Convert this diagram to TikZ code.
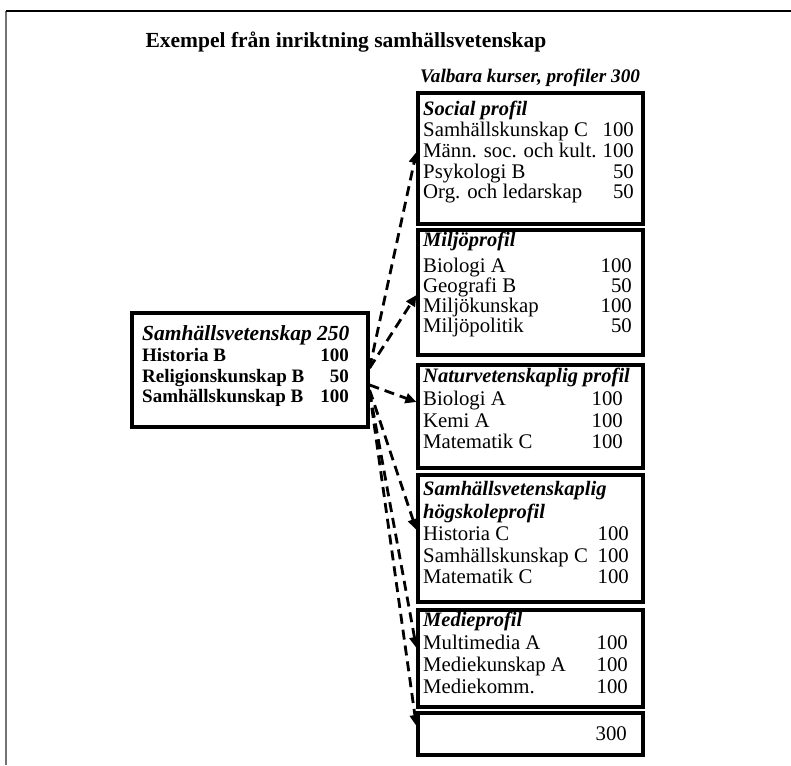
\documentclass[tikz,border=0pt]{standalone}
\usepackage{fontspec}
\setmainfont{Liberation Serif}
\usetikzlibrary{arrows.meta}

\tikzset{
  box/.style={draw, line width=3.2pt, inner sep=0pt},
  course/.style={anchor=base west, inner sep=0pt, font=\fontsize{20.8}{23}\selectfont},
  points/.style={anchor=base east, inner sep=0pt, font=\fontsize{20.8}{23}\selectfont},
  profile/.style={anchor=base west, inner sep=0pt, font=\fontsize{20.5}{23}\selectfont\bfseries\itshape},
  choice/.style={dash pattern=on 10pt off 6pt, line width=2.8pt, -{Triangle[length=11pt,width=10pt]}},
}

\begin{document}
\begin{tikzpicture}[x=1pt, y=-1pt]
    \useasboundingbox (0,0) rectangle (791,765);
    \draw[line width=1.8pt, black!55] (6,765) -- (6,11);
    \draw[line width=1.6pt] (6,11) -- (791,11);

    \node[anchor=base, inner sep=0pt, font=\fontsize{21.5}{24}\selectfont\bfseries] (title) at (346,48) {Exempel från inriktning samhällsvetenskap};
    \node[profile, font=\fontsize{19.2}{22}\selectfont\bfseries\itshape] (valbara) at (420,83) {Valbara kurser, profiler 300};

    % core courses
    \node[box, minimum width=236pt, minimum height=114pt] (core) at (250,370) {};
    \node[profile, font=\fontsize{21.5}{24}\selectfont\bfseries\itshape] (core-head) at (142,340) {Samhällsvetenskap 250};
    \foreach \y/\c/\p in {361/Historia B/100, 382/Religionskunskap B/50, 402/Samhällskunskap B/100} {
      \node[course, font=\fontsize{19}{22}\selectfont\bfseries] (core-c\y) at (142,\y) {\c};
      \node[points, font=\fontsize{19}{22}\selectfont\bfseries] (core-p\y) at (349,\y) {\p};
    }

    % social
    \node[box, minimum width=225pt, minimum height=131pt] (social) at (530.5,158.5) {};
    \node[profile] (social-head) at (423,115) {Social profil};
    \foreach \y/\c/\p in {136/Samhällskunskap C/100, 157/Männ. soc. och kult./100, 178/Psykologi B/50, 198/Org. och ledarskap/50} {
      \node[course] (social-c\y) at (423,\y) {\c};
      \node[points] (social-p\y) at (634,\y) {\p};
    }

    % miljo
    \node[box, minimum width=225pt, minimum height=125pt] (miljo) at (530.5,292.5) {};
    \node[profile] (miljo-head) at (423,246) {Miljöprofil};
    \foreach \y/\c/\p in {272/Biologi A/100, 292/Geografi B/50, 312/Miljökunskap/100, 332/Miljöpolitik/50} {
      \node[course] (miljo-c\y) at (423,\y) {\c};
      \node[points] (miljo-p\y) at (632,\y) {\p};
    }

    % natur
    \node[box, minimum width=225pt, minimum height=103pt] (natur) at (530.5,416.5) {};
    \node[profile] (natur-head) at (423,382) {Naturvetenskaplig profil};
    \foreach \y/\c/\p in {405/Biologi A/100, 427/Kemi A/100, 448/Matematik C/100} {
      \node[course] (natur-c\y) at (423,\y) {\c};
      \node[points] (natur-p\y) at (623,\y) {\p};
    }

    % hogskola
    \node[box, minimum width=225pt, minimum height=127pt] (hogskola) at (530.5,538.5) {};
    \node[profile] (hogskola-head) at (423,495) {Samhällsvetenskaplig};
    \node[profile] (hogskola-head2) at (423,518) {högskoleprofil};
    \foreach \y/\c/\p in {540/Historia C/100, 562/Samhällskunskap C/100, 583/Matematik C/100} {
      \node[course] (hogskola-c\y) at (423,\y) {\c};
      \node[points] (hogskola-p\y) at (629,\y) {\p};
    }

    % media
    \node[box, minimum width=225pt, minimum height=97pt] (media) at (530.5,658.5) {};
    \node[profile] (media-head) at (423,626) {Medieprofil};
    \foreach \y/\c/\p in {649/Multimedia A/100, 671/Mediekunskap A/100, 693/Mediekomm./100} {
      \node[course] (media-c\y) at (423,\y) {\c};
      \node[points] (media-p\y) at (628,\y) {\p};
    }

    % free choice
    \node[box, minimum width=225pt, minimum height=42pt] (free) at (530.5,734) {};
    \node[points] (free-p) at (627,740) {300};

    % links
    \draw[choice] ([yshift=2pt]core.east) -- ([yshift=6.5pt]social.west);
    \draw[choice] ([yshift=2pt]core.east) -- ([yshift=-2.5pt]miljo.west);
    \draw[choice] ([yshift=-15pt]core.east) -- ([yshift=14.5pt]natur.west);
    \draw[choice] ([yshift=-20pt]core.east) -- ([yshift=8.5pt]hogskola.west);
    \draw[choice] ([yshift=-22pt]core.east) -- ([yshift=10.5pt]media.west);
    \draw[choice] ([yshift=-22pt]core.east) -- ([yshift=8pt]free.west);
\end{tikzpicture}
\end{document}
